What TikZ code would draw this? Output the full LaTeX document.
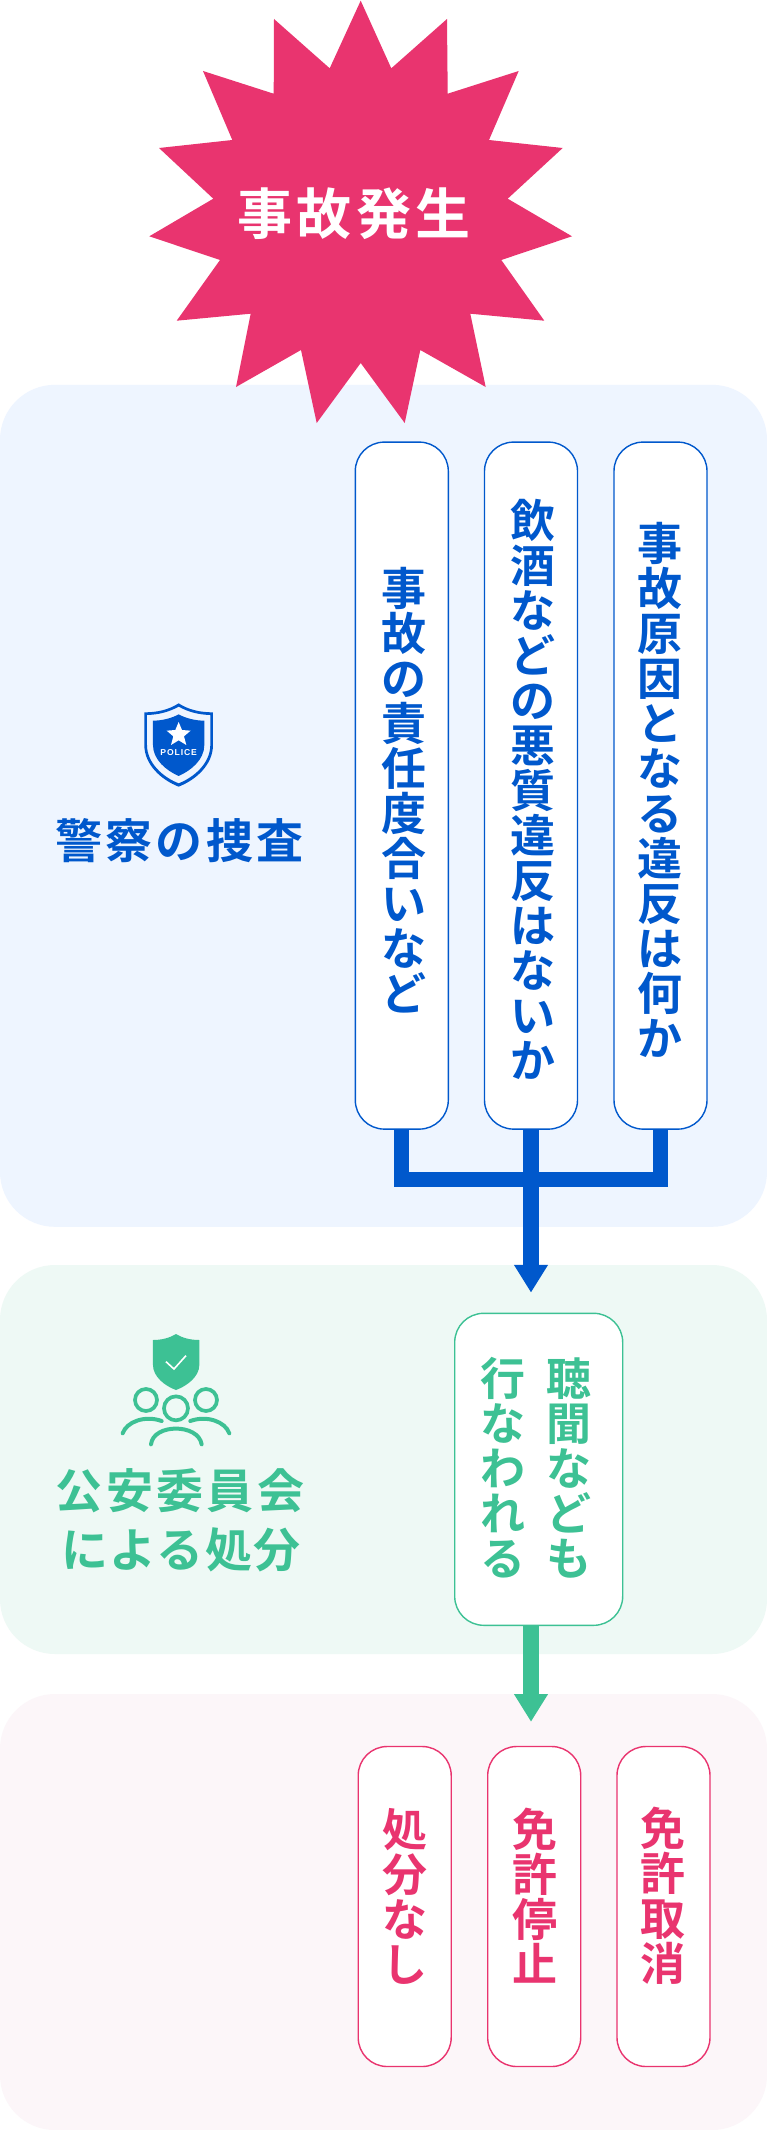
\documentclass[tikz,border=0pt]{standalone}
\usepackage{fontspec}
\usetikzlibrary{arrows.meta}
\setmainfont{Noto Sans CJK JP}[BoldFont={* Bold}]
\newfontfamily\lat{Liberation Sans}
\definecolor{accent}{HTML}{E9346F}
\definecolor{bluec}{HTML}{0058CC}
\definecolor{greenc}{HTML}{3DC194}
\definecolor{bluebg}{HTML}{EEF5FF}
\definecolor{greenbg}{HTML}{EEF9F5}
\definecolor{pinkbg}{HTML}{FCF6F9}
\ExplSyntaxOn
\NewDocumentCommand\vstr{m}{
  \vbox{\baselineskip=45pt\lineskiplimit=-100pt\relax
    \tl_map_inline:nn{#1}{\hbox{##1}}}
}
\ExplSyntaxOff
\tikzset{
  panel/.style={rounded corners=55pt,inner sep=0pt,minimum width=767pt},
  card/.style={draw=#1,fill=white,line width=1.4pt,rounded corners=29pt,inner sep=0pt,minimum width=93pt},
  vlab/.style={inner sep=0pt,font=\bfseries\fontsize{45}{45}\selectfont,text=#1},
  hlab/.style={inner sep=0pt,font=\bfseries\fontsize{47}{47}\selectfont\addfontfeature{LetterSpace=7.2},text=#1},
  hlabtight/.style={inner sep=0pt,font=\bfseries\fontsize{47}{47}\selectfont\addfontfeature{LetterSpace=2.8},text=#1},
  conn/.style={draw=#1,line width=15.3pt,-{Triangle[width=32pt,length=27.7pt]}},
  bar/.style={draw=#1,line width=15.3pt},
}
\begin{document}
\begin{tikzpicture}[x=1pt,y=-1pt]
\useasboundingbox (0,0) rectangle (767,2130);
\fill[white] (0,0) rectangle (767,2130);
% panels
\node[panel,fill=bluebg,minimum height=842pt] (pblue) at (383.5,805.8) {};
\node[panel,fill=greenbg,minimum height=389pt] (pgreen) at (383.5,1459.5) {};
\node[panel,fill=pinkbg,minimum height=436pt] (ppink) at (383.5,1912) {};
% burst
\fill[accent] (360.7,0.7) -- (391.3,68.3) -- (447,19) -- (447.7,93.7) -- (518.7,71) -- (489,140) -- (562.7,148) -- (507.7,198.7) -- (572,236.3) -- (501.3,260) -- (544.3,320.7) -- (470.3,313.7) -- (485.7,387) -- (420.3,350) -- (404.7,423) -- (360.7,363) -- (316.7,423) -- (301,350) -- (236,387) -- (250.7,313.7) -- (176.7,320.7) -- (220,260) -- (149.3,236.3) -- (213.3,198.7) -- (159,148) -- (232.3,140) -- (203,71) -- (273.7,93.7) -- (274,19) -- (329.7,68.3) -- cycle;
\node[inner sep=0pt,text=white,font=\bfseries\fontsize{55}{55}\selectfont\addfontfeature{LetterSpace=7.5}] (title) at (354,214) {事故発生};
% blue cards
\node[card=bluec,minimum height=687pt] (b1) at (401.8,785.6) {};
\node[card=bluec,minimum height=687pt] (b2) at (531,785.6) {};
\node[card=bluec,minimum height=687pt] (b3) at (660.5,785.6) {};
\node[vlab=bluec] (t1) at (404,790.5) {\vstr{事故の責任度合いなど}};
\node[vlab=bluec] (t2) at (533,789) {\vstr{飲酒などの悪質違反はないか}};
\node[vlab=bluec] (t3) at (660,790) {\vstr{事故原因となる違反は何か}};
% green card
\node[card=greenc,minimum width=168pt,minimum height=312pt] (g) at (538.7,1469.3) {};
\node[vlab=greenc] (g1) at (568.8,1468) {\vstr{聴聞なども}};
\node[vlab=greenc] (g2) at (502.5,1468) {\vstr{行なわれる}};
% pink cards
\node[card=accent,minimum height=320pt] (p1) at (404.7,1906.5) {};
\node[card=accent,minimum height=320pt] (p2) at (534.2,1906.5) {};
\node[card=accent,minimum height=320pt] (p3) at (663.5,1906.5) {};
\node[vlab=accent] (q1) at (404.5,1896) {\vstr{処分なし}};
\node[vlab=accent] (q2) at (535.3,1896) {\vstr{免許停止}};
\node[vlab=accent] (q3) at (663.3,1896) {\vstr{免許取消}};
% connectors
\coordinate (jn) at ([yshift=-50pt]b2.south);
\draw[bar=bluec] (b1.south) |- (jn) -| (b3.south);
\draw[conn=bluec,shorten >=20pt] (b2.south) -- (b2.south |- g.north);
\draw[conn=greenc,shorten >=24pt] (b2.south |- g.south) -- (b2.south |- p2.north);
% labels
\node[hlab=bluec] (lab1) at (179.5,841) {警察の捜査};
\node[hlab=greenc] (lab2) at (180,1490.5) {公安委員会};
\node[hlabtight=greenc] (lab3) at (181,1549.5) {による処分};
% police icon
\begin{scope}[shift={(30,680)},x=0.3333pt,y=-0.3333pt]
\fill[bluec,even odd rule] (446,70) .. controls (415,90) and (380,97) .. (343,97) -- (343,195) .. controls (343,255) and (395,300) .. (446,320) .. controls (497,300) and (549,255) .. (549,195) -- (549,97) .. controls (512,97) and (477,90) .. (446,70) -- cycle
 (446,80) .. controls (415,97) and (385,104) .. (351,105) -- (351,195) .. controls (351,250) and (400,292) .. (446,310) .. controls (492,292) and (541,250) .. (541,195) -- (541,105) .. controls (507,104) and (477,97) .. (446,80) -- cycle;
\fill[bluec] (446,103) .. controls (425,115) and (395,122) .. (369,122) -- (369,195) .. controls (369,240) and (410,272) .. (446,288) .. controls (482,272) and (523,240) .. (523,195) -- (523,122) .. controls (497,122) and (467,115) .. (446,103) -- cycle;
\fill[white] (446,126) -- (456,150) -- (482,152) -- (462,169) -- (469,195) -- (446,181) -- (423,195) -- (430,169) -- (410,152) -- (436,150) -- cycle;
\node[inner sep=0pt,text=white,font=\lat\bfseries\fontsize{8.6}{9}\selectfont\addfontfeature{LetterSpace=10}] (police) at (446,217) {POLICE};
\end{scope}
% committee icon
\begin{scope}[shift={(30,1310)},x=0.3333pt,y=-0.3333pt]
\fill[greenc] (438,72) .. controls (418,84) and (395,90) .. (369,90) -- (369,165) .. controls (369,200) and (405,228) .. (438,240) .. controls (471,228) and (508,200) .. (508,165) -- (508,90) .. controls (481,90) and (458,84) .. (438,72) -- cycle;
\draw[white,line width=1.6pt] (408,155) -- (432,177) -- (468,137);
\draw[greenc,line width=3.7pt] (348,270) circle[radius=33];
\draw[greenc,line width=3.7pt] (528,270) circle[radius=33];
\draw[greenc,line width=3.7pt] (438,295) circle[radius=36];
\draw[greenc,line width=4pt,line cap=round] (278,370) .. controls (290,335) and (345,315) .. (395,333);
\draw[greenc,line width=4pt,line cap=round] (598,370) .. controls (586,335) and (531,315) .. (481,333);
\draw[greenc,line width=4pt,line cap=round] (363,403) .. controls (370,340) and (505,340) .. (515,403);
\end{scope}
\end{tikzpicture}
\end{document}
